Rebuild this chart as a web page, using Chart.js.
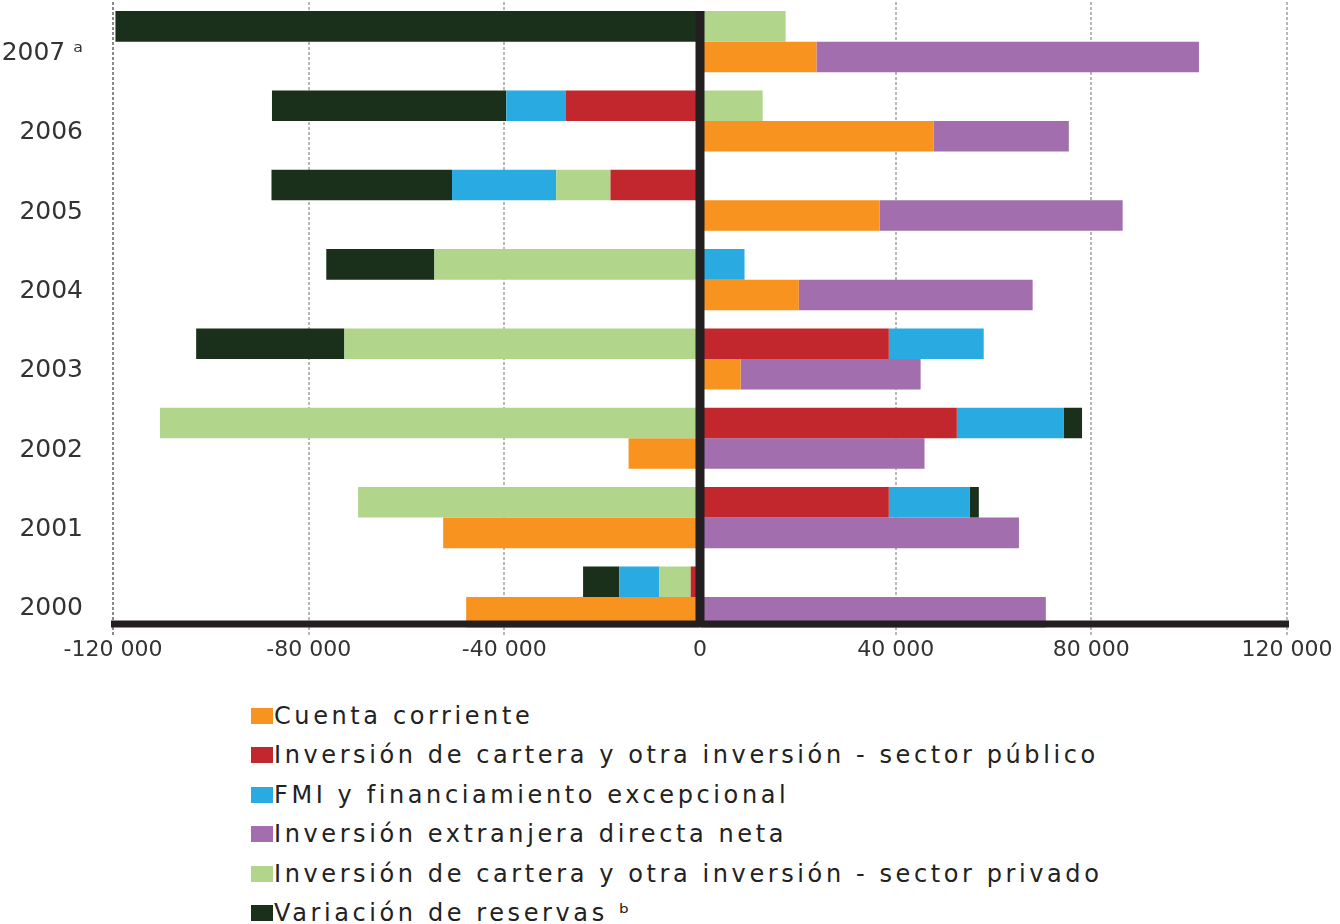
<!DOCTYPE html>
<html lang="es">
<head>
<meta charset="utf-8">
<script src="https://cdn.jsdelivr.net/npm/chart.js@4.4.1/dist/chart.umd.min.js"></script>
<style>
  html, body { margin: 0; padding: 0; background: #fff; }
  body { width: 1340px; height: 924px; position: relative; overflow: hidden; font-family: 'DejaVu Sans', sans-serif; }
  #wrap { position: absolute; left: 0; top: 0; width: 1340px; height: 680px; }
  #leyenda { position: absolute; left: 251px; top: 696px; }
  .item { display: flex; align-items: center; height: 39.5px; font-size: 24px; letter-spacing: 3.6px; color: #222; white-space: nowrap; }
  .caja { width: 22px; height: 16px; margin-right: 1px; flex: none; }
</style>
</head>
<body>
<div id="wrap"><canvas id="grafico"></canvas></div>
<div id="leyenda"></div>
<script>
const anios = ['2007 ᵃ', '2006', '2005', '2004', '2003', '2002', '2001', '2000']
const xTicks = [-120000, -80000, -40000, 0, 40000, 80000, 120000]

// barra superior de cada año
const publico  = [0, -27500, -18300, 0, 38600, 52500, 38600, -1900]
const privado  = [17500, 12800, -11100, -54300, -72700, -110400, -69900, -6400]
const fmi      = [0, -12100, -21300, 9100, 19400, 21900, 16500, -8200]
const reservas = [-119500, -47900, -36900, -22100, -30300, 3700, 1900, -7400]
// barra inferior de cada año
const cuenta   = [23800, 47800, 36700, 20200, 8300, -14600, -52500, -47800]
const ied      = [78200, 27600, 49700, 47800, 36800, 45900, 65200, 70700]

const series = [
  { label: 'Inversión de cartera y otra inversión - sector público', data: publico, color: '#c1272d', stack: 'arriba' },
  { label: 'Inversión de cartera y otra inversión - sector privado', data: privado, color: '#b1d58a', stack: 'arriba' },
  { label: 'FMI y financiamiento excepcional', data: fmi, color: '#29abe2', stack: 'arriba' },
  { label: 'Variación de reservas ᵇ', data: reservas, color: '#1b301a', stack: 'arriba' },
  { label: 'Cuenta corriente', data: cuenta, color: '#f7931e', stack: 'abajo' },
  { label: 'Inversión extranjera directa neta', data: ied, color: '#a26eae', stack: 'abajo' }
]
// orden de la leyenda
const ordenLeyenda = [4, 0, 2, 5, 1, 3]

function fmt(v) {
  const s = String(Math.abs(v)).replace(/\B(?=(\d{3})+(?!\d))/g, ' ')
  return (v < 0 ? '-' : '') + s
}

// eje horizontal grueso sobre el borde de la última barra y línea del cero
const ejes = {
  id: 'ejes',
  afterDatasetsDraw(chart) {
    const { ctx, scales } = chart
    const x = scales.x.getPixelForValue(0)
    const primera = chart.getDatasetMeta(0).data[0]
    const ultima = chart.getDatasetMeta(series.length - 1).data[anios.length - 1]
    const yEje = ultima.y + ultima.height / 2 - 3.5
    ctx.save()
    ctx.strokeStyle = '#231f20'
    ctx.lineWidth = 7
    ctx.beginPath()
    ctx.moveTo(scales.x.getPixelForValue(xTicks[0]) - 2, yEje)
    ctx.lineTo(scales.x.getPixelForValue(xTicks[xTicks.length - 1]) + 2, yEje)
    ctx.stroke()
    ctx.lineWidth = 9
    ctx.beginPath()
    ctx.moveTo(x, primera.y - primera.height / 2)
    ctx.lineTo(x, yEje)
    ctx.stroke()
    ctx.restore()
  }
}

const chart = new Chart(document.getElementById('grafico'), {
  type: 'bar',
  data: {
    labels: anios,
    datasets: series.map(s => ({
      label: s.label,
      data: s.data,
      backgroundColor: s.color,
      stack: s.stack,
      borderWidth: 0,
      barPercentage: 1,
      categoryPercentage: 0.77
    }))
  },
  options: {
    indexAxis: 'y',
    responsive: true,
    maintainAspectRatio: false,
    animation: false,
    layout: { padding: { left: 0, right: 53, top: 2, bottom: 17 } },
    plugins: { legend: { display: false }, tooltip: { enabled: false } },
    scales: {
      x: {
        stacked: true,
        min: -120000,
        max: 120000,
        afterBuildTicks: scale => { scale.ticks = xTicks.map(v => ({ value: v })) },
        ticks: {
          callback: v => fmt(v),
          font: { family: 'DejaVu Sans', size: 22 },
          color: '#333',
          padding: 0,
          maxRotation: 0
        },
        grid: {
          drawTicks: false,
          color: c => c.tick.value === -120000 ? '#8a8a8a' : c.tick.value === 0 ? 'rgba(0,0,0,0)' : '#b8b8b8',
          lineWidth: 2
        },
        border: { display: false, dash: [3, 2] }
      },
      y: {
        stacked: true,
        afterFit: scale => {
          scale.width = 113
          scale.paddingTop = 0
          scale.paddingBottom = 0
        },
        ticks: {
          font: { family: 'DejaVu Sans', size: 25 },
          color: '#333',
          padding: 22,
          labelOffset: 12
        },
        grid: { display: false },
        border: { display: false }
      }
    }
  },
  plugins: [ejes]
})

document.getElementById('leyenda').innerHTML = ordenLeyenda.map(i => {
  const s = series[i]
  return `<div class="item"><span class="caja" style="background:${s.color}"></span>${s.label}</div>`
}).join('')
</script>
</body>
</html>
